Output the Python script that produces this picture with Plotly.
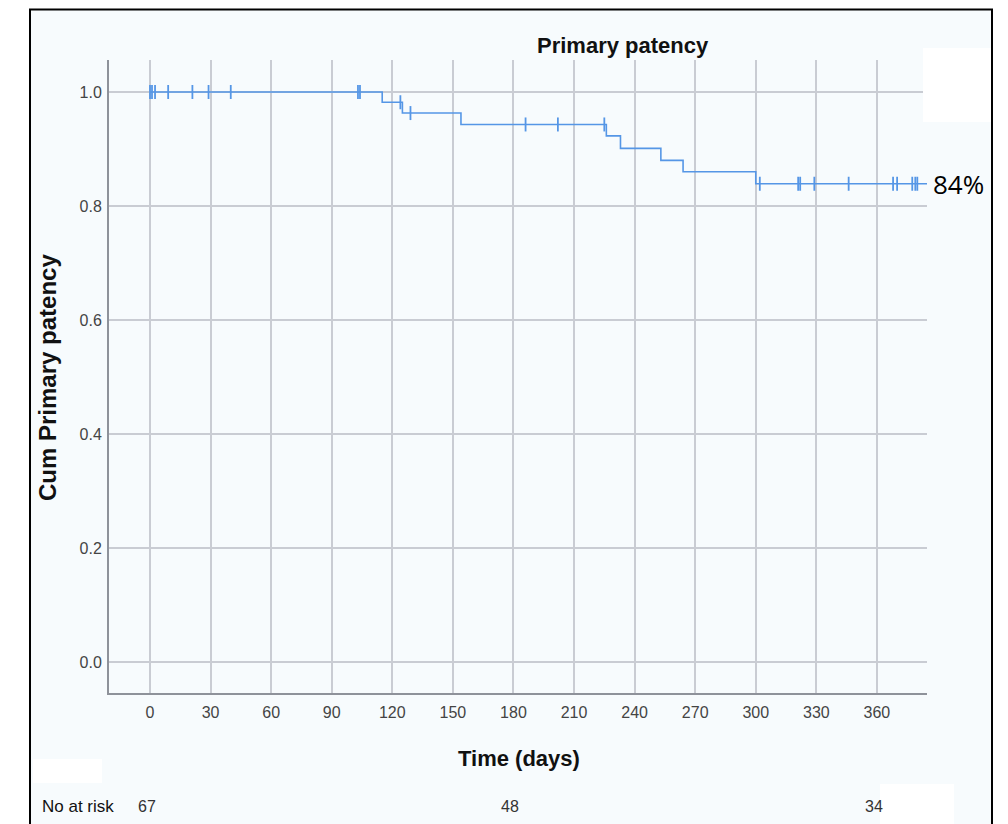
import plotly.graph_objects as go

# ---- data ----
event_days = [0, 115, 125, 154, 226, 233, 253, 264, 300, 385]
survival = [1.0, 0.982, 0.963, 0.943, 0.923, 0.901, 0.880, 0.860, 0.839, 0.839]
censor_days = [0, 1, 2.5, 9, 21, 29, 40, 103, 104, 124, 129, 186, 202, 225,
               302, 321, 322, 329, 346, 368, 370, 377.5, 379, 380]
x_ticks = [0, 30, 60, 90, 120, 150, 180, 210, 240, 270, 300, 330, 360]
y_ticks = [0.0, 0.2, 0.4, 0.6, 0.8, 1.0]
at_risk_days = [0, 180, 360]
at_risk_counts = [67, 48, 34]
final_label = "84%"

def surv_at(t):
    s = survival[0]
    for d, v in zip(event_days, survival):
        if d <= t:
            s = v
    return s

censor_y = [surv_at(t) for t in censor_days]

BLUE = "#5596e6"
FONT = "Liberation Sans, Arial, sans-serif"

fig = go.Figure()
fig.add_trace(go.Scatter(x=event_days, y=survival, mode="lines",
                         line=dict(color=BLUE, width=1.6, shape="hv"),
                         hoverinfo="skip", showlegend=False))
fig.add_trace(go.Scatter(x=censor_days, y=censor_y, mode="markers",
                         marker=dict(symbol="line-ns-open", size=10, color=BLUE,
                                     line=dict(color=BLUE, width=1.8)),
                         showlegend=False))

OFF = 8  # page body margin in the browser
W, H = 1000, 816
L = 109 - OFF
T = 60 - OFF
R = W - (927 - OFF)
B = H - (693 - OFF)
pw, ph = W - L - R, H - T - B

def px(xs):
    return (xs - OFF - L) / pw

def py(ys):
    return (H - B - (ys - OFF)) / ph

shapes = [
    dict(type="rect", xref="paper", yref="paper", x0=px(30), x1=px(992),
         y0=py(834), y1=py(9.5), fillcolor="#f7fbfd",
         line=dict(color="black", width=2), layer="below"),
    dict(type="rect", xref="paper", yref="paper", x0=px(33), x1=px(102),
         y0=py(783), y1=py(759), fillcolor="white", line=dict(width=0), layer="below"),
    dict(type="rect", xref="paper", yref="paper", x0=px(880), x1=px(954),
         y0=py(830), y1=py(784), fillcolor="white", line=dict(width=0), layer="below"),
    dict(type="rect", xref="paper", yref="paper", x0=px(923), x1=px(991),
         y0=py(122), y1=py(48), fillcolor="white", line=dict(width=0), layer="above"),
]

annotations = [
    dict(text="<b>Primary patency</b>", xref="paper", yref="paper", x=px(623), y=py(45),
         showarrow=False, xanchor="center", yanchor="middle",
         font=dict(family=FONT, size=22, color="#111")),
    dict(text="<b>Time (days)</b>", xref="paper", yref="paper", x=px(519), y=py(758),
         showarrow=False, xanchor="center", yanchor="middle",
         font=dict(family=FONT, size=22, color="#111")),
    dict(text="<b>Cum Primary patency</b>", xref="paper", yref="paper", x=px(47), y=py(378),
         showarrow=False, xanchor="center", yanchor="middle", textangle=-90,
         font=dict(family=FONT, size=24, color="#111")),
    dict(text="No at risk", xref="paper", yref="paper", x=px(40), y=py(806),
         showarrow=False, xanchor="left", yanchor="middle",
         font=dict(family=FONT, size=17, color="#111")),
    dict(text=final_label, xref="paper", yref="y", x=px(931), y=survival[-1],
         showarrow=False, xanchor="left", yanchor="middle",
         font=dict(family="Open Sans, sans-serif", size=26, color="#000")),
]
for d, c in zip(at_risk_days, at_risk_counts):
    annotations.append(dict(text=str(c), xref="x", yref="paper", x=d, y=py(806),
                            xshift=-3, showarrow=False, xanchor="center", yanchor="middle",
                            font=dict(family=FONT, size=16, color="#333")))

fig.update_layout(
    width=W, height=H,
    margin=dict(l=L, r=R, t=T, b=B, pad=0),
    paper_bgcolor="white", plot_bgcolor="rgba(0,0,0,0)",
    shapes=shapes, annotations=annotations,
    xaxis=dict(range=[-20.3, 384.8], tickvals=x_ticks, ticks="", ticklabelstandoff=4,
               showgrid=True, gridcolor="#c9ccd3", gridwidth=1.5, zeroline=False,
               showline=True, linecolor="#8e929a", linewidth=2,
               tickfont=dict(family=FONT, size=16, color="#444")),
    yaxis=dict(range=[-0.0544, 1.0561], tickvals=y_ticks, tickformat=".1f", ticks="",
               ticklabelstandoff=2,
               showgrid=True, gridcolor="#c9ccd3", gridwidth=1.5, zeroline=False,
               showline=True, linecolor="#8e929a", linewidth=2,
               tickfont=dict(family=FONT, size=16, color="#444")),
)

fig.write_html("out.html")
